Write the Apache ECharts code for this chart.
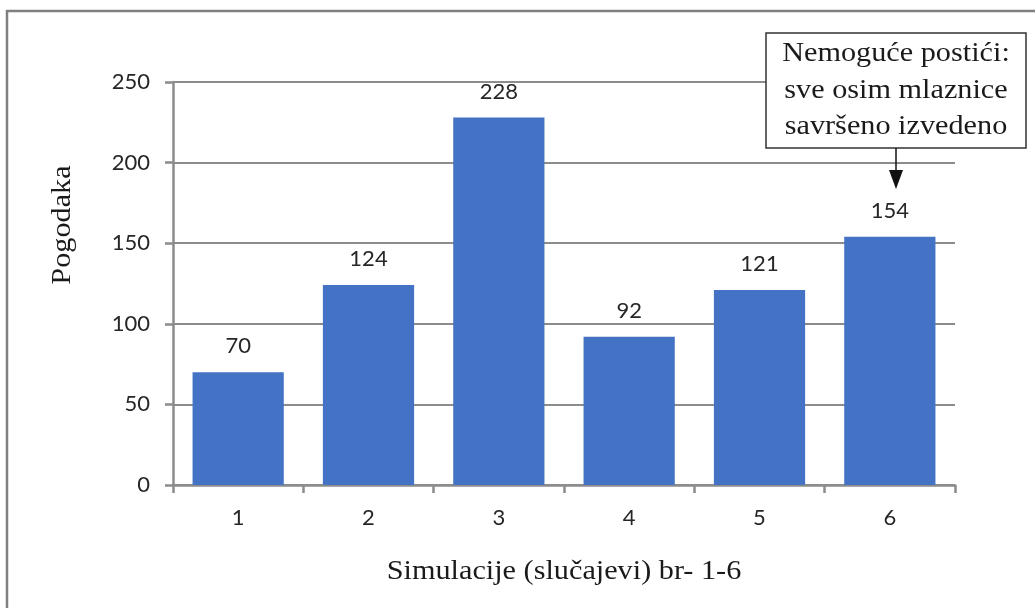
<!DOCTYPE html>
<html>
<head>
<meta charset="utf-8">
<style>
html,body{margin:0;padding:0;background:#fff;}
#chart{width:1035px;height:608px;}
</style>
<script src="https://cdn.jsdelivr.net/npm/echarts@6/dist/echarts.min.js"></script>
</head>
<body>
<div id="chart"></div>
<script>
const categories = ['1', '2', '3', '4', '5', '6'];
const values = [70, 124, 228, 92, 121, 154];
const yMin = 0, yMax = 250, yStep = 50;
const xTitle = 'Simulacije (slučajevi) br- 1-6';
const yTitle = 'Pogodaka';
const noteLines = ['Nemoguće postići:', 'sve osim mlaznice', 'savršeno izvedeno'];
const noteIndex = 5;

const serif = '"Liberation Serif", "Times New Roman", serif';
const sans = 'Lato, "Open Sans", sans-serif';
const gray = '#8c8c8c';
const stretch = 1.12;

const chart = echarts.init(document.getElementById('chart'));
chart.setOption({
  animation: false,
  backgroundColor: '#fff',
  grid: { left: 173, right: 80, top: 82, bottom: 123 },
  xAxis: {
    type: 'category',
    data: categories,
    axisLine: { lineStyle: { color: gray, width: 2.5 } },
    axisTick: { show: true, length: 8, lineStyle: { color: gray, width: 2.5 } },
    axisLabel: { fontFamily: sans, fontSize: 22, color: '#262626', margin: 22 }
  },
  yAxis: {
    type: 'value',
    min: yMin, max: yMax, interval: yStep,
    axisLine: { show: true, lineStyle: { color: gray, width: 2.5 } },
    axisTick: { show: true, length: 8, lineStyle: { color: gray, width: 2.5 } },
    splitLine: { lineStyle: { color: gray, width: 2 } },
    axisLabel: { fontFamily: sans, fontSize: 22, color: '#262626', margin: 23 }
  },
  series: [{
    type: 'bar',
    data: values,
    barCategoryGap: '30%',
    itemStyle: { color: '#4472C4' },
    label: {
      show: true, position: 'top', distance: 15,
      fontFamily: sans, fontSize: 22, color: '#262626'
    }
  }]
});

const tip = chart.convertToPixel({ xAxisIndex: 0 }, noteIndex);
const ax = Math.round(tip) + 6;
const midX = (chart.convertToPixel({ xAxisIndex: 0 }, 0) + chart.convertToPixel({ xAxisIndex: 0 }, categories.length - 1)) / 2;
const boxW = 260, boxH = 115, boxTop = 33;
const lineH = 36.5;
const graphics = [
  {
    type: 'rect', silent: true, z: 0,
    shape: { x: 7, y: 11, width: 1100, height: 700 },
    style: { fill: 'none', stroke: '#808080', lineWidth: 2.5 }
  },
  {
    type: 'text', z: 10,
    x: 63, y: 225, rotation: Math.PI / 2, scaleX: stretch,
    style: {
      text: yTitle, font: '27px ' + serif, fill: '#1a1a1a',
      align: 'center', verticalAlign: 'middle'
    }
  },
  {
    type: 'text', z: 10,
    x: midX, y: 572, scaleX: stretch,
    style: {
      text: xTitle, font: '27px ' + serif, fill: '#1a1a1a',
      align: 'center', verticalAlign: 'middle'
    }
  },
  {
    type: 'rect', z: 10,
    shape: { x: ax - boxW / 2, y: boxTop, width: boxW, height: boxH },
    style: { fill: '#fff', stroke: '#333', lineWidth: 1.5 }
  },
  {
    type: 'line', z: 10,
    shape: { x1: ax, y1: boxTop + boxH, x2: ax, y2: 172 },
    style: { stroke: '#111', lineWidth: 1.5 }
  },
  {
    type: 'polygon', z: 10,
    shape: { points: [[ax - 7, 170], [ax + 7, 170], [ax, 189]] },
    style: { fill: '#111' }
  }
];
noteLines.forEach(function (t, i) {
  graphics.push({
    type: 'text', z: 11,
    x: ax, y: boxTop + 21 + i * lineH, scaleX: stretch,
    style: {
      text: t, font: '27px ' + serif, fill: '#1a1a1a',
      align: 'center', verticalAlign: 'middle'
    }
  });
});
chart.setOption({ graphic: graphics });
</script>
</body>
</html>
